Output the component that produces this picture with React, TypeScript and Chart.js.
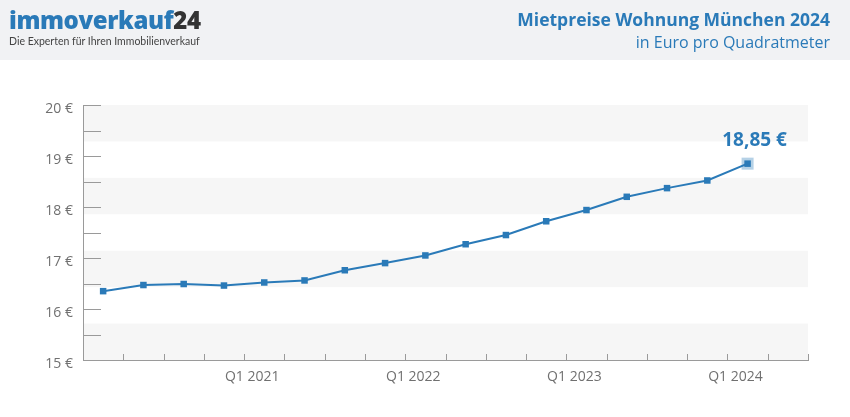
import React, { useEffect, useRef } from "react";
import { Chart, registerables } from "chart.js";

Chart.register(...registerables);

const values: number[] = [16.35, 16.47, 16.49, 16.46, 16.52, 16.56, 16.76, 16.9, 17.05, 17.27, 17.45, 17.72, 17.94, 18.2, 18.37, 18.52, 18.85];
const xLabels: string[] = ["Q1 2021", "Q1 2022", "Q1 2023", "Q1 2024"];
const xLabelIndex: number[] = [3.7, 7.7, 11.7, 15.7];
const yMin = 15;
const yMax = 20;
const yStep = 0.5;
const title = "Mietpreise Wohnung München 2024";
const subtitle = "in Euro pro Quadratmeter";

const BLUE = "#2a7ab8";
const AXIS = "#9a9a9a";
const LABEL = "#707070";
const FONT = "'Open Sans', 'Noto Sans', sans-serif";

const fmt = (v: number) => v.toFixed(2).replace(".", ",") + " €";

const bandsPlugin = {
  id: "bands",
  beforeDraw(chart: any) {
    const { ctx, chartArea } = chart;
    const n = 7;
    const h = (chartArea.bottom - chartArea.top) / n;
    ctx.save();
    ctx.fillStyle = "#f6f6f6";
    for (let i = 0; i < n; i += 2) {
      ctx.fillRect(chartArea.left, chartArea.top + i * h, chartArea.right - chartArea.left, h);
    }
    ctx.restore();
  },
};

const innerTicksPlugin = {
  id: "innerTicks",
  beforeDatasetsDraw(chart: any) {
    const { ctx, chartArea, scales } = chart;
    const y = scales.y;
    const x = scales.x;
    ctx.save();
    ctx.strokeStyle = AXIS;
    ctx.lineWidth = 1;
    ctx.beginPath();
    y.ticks.forEach((t: any) => {
      const py = Math.round(y.getPixelForValue(t.value)) + 0.5;
      ctx.moveTo(chartArea.left, py);
      ctx.lineTo(chartArea.left + 18, py);
    });
    for (let k = x.min; k <= x.max + 1e-6; k += 1) {
      const px = Math.round(x.getPixelForValue(k)) + 0.5;
      ctx.moveTo(px, chartArea.bottom);
      ctx.lineTo(px, chartArea.bottom - 6);
    }
    ctx.stroke();
    ctx.restore();
  },
};

const lastLabelPlugin = {
  id: "lastLabel",
  afterDatasetsDraw(chart: any) {
    const { ctx, scales } = chart;
    const i = values.length - 1;
    const px = scales.x.getPixelForValue(i);
    const py = scales.y.getPixelForValue(values[i]);
    ctx.save();
    ctx.font = `bold 19px ${FONT}`;
    ctx.fillStyle = BLUE;
    ctx.textAlign = "center";
    ctx.textBaseline = "middle";
    ctx.fillText(fmt(values[i]), px + 7, py - 23);
    ctx.restore();
  },
};

function LineChart() {
  const ref = useRef<HTMLCanvasElement | null>(null);
  useEffect(() => {
    if (!ref.current) return;
    const data = values.map((v, i) => ({ x: i, y: v }));
    const halo = values.map((v, i) => ({ x: i, y: i === values.length - 1 ? v : null }));
    const chart = new Chart(ref.current, {
      type: "line",
      data: {
        datasets: [
          {
            data: data as any,
            borderColor: BLUE,
            backgroundColor: BLUE,
            borderWidth: 2,
            pointStyle: "rect",
            pointRadius: 4.6,
            pointBorderWidth: 0,
            pointBackgroundColor: BLUE,
            order: 1,
          },
          {
            data: halo as any,
            showLine: false,
            pointStyle: "rect",
            pointRadius: 8.5,
            pointBorderWidth: 0,
            pointBackgroundColor: "rgba(42,122,184,0.35)",
            order: 2,
          },
        ],
      },
      options: {
        animation: false,
        responsive: false,
        events: [],
        layout: { padding: { top: 105, right: 42, left: 0, bottom: 0 } },
        plugins: { legend: { display: false }, tooltip: { enabled: false } },
        scales: {
          x: {
            type: "linear",
            min: -0.5,
            max: values.length + 0.5,
            grid: { display: false, drawTicks: false },
            border: { display: true, color: AXIS, width: 1 },
            afterBuildTicks: (s: any) => {
              s.ticks = xLabelIndex.map((v) => ({ value: v }));
            },
            afterFit: (s: any) => {
              s.height = 57;
            },
            ticks: {
              autoSkip: false,
              maxRotation: 0,
              padding: 9,
              color: LABEL,
              font: { family: FONT, size: 14 },
              callback: (_v: any, i: number) => xLabels[i],
            },
          },
          y: {
            type: "linear",
            min: yMin,
            max: yMax,
            grid: { display: false, drawTicks: false },
            border: { display: true, color: AXIS, width: 1 },
            afterBuildTicks: (s: any) => {
              const t: any[] = [];
              for (let v = yMin; v <= yMax + 1e-9; v += yStep) t.push({ value: v });
              s.ticks = t;
            },
            afterFit: (s: any) => {
              s.width = 83;
            },
            ticks: {
              padding: 10,
              labelOffset: 4,
              color: LABEL,
              font: { family: FONT, size: 14 },
              callback: (v: any) => (Math.abs(v - Math.round(v)) < 1e-9 ? `${v} €` : ""),
            },
          },
        },
      },
      plugins: [bandsPlugin, innerTicksPlugin, lastLabelPlugin],
    });
    return () => chart.destroy();
  }, []);
  return <canvas ref={ref} width={850} height={417} style={{ position: "absolute", left: 0, top: 0, width: 850, height: 417 }} />;
}

export default function App() {
  return (
    <div style={{ position: "fixed", left: 0, top: 0, width: 850, height: 417, background: "#fff", overflow: "hidden", fontFamily: FONT }}>
      <div style={{ position: "absolute", left: 0, top: 0, width: 850, height: 60, background: "#f1f2f4" }} />
      <LineChart />
      <div style={{ position: "absolute", left: 9, top: 3, whiteSpace: "nowrap", zIndex: 2 }}>
        <div style={{ fontSize: 24, fontWeight: 800, letterSpacing: -0.4, lineHeight: "33px" }}>
          <span style={{ color: BLUE }}>immoverkauf</span>
          <span style={{ color: "#333" }}>24</span>
        </div>
        <div style={{ fontSize: 10.5, color: "#444", lineHeight: "12px", marginTop: -1, fontFamily: "'Liberation Sans Narrow', Lato, sans-serif" }}>
          Die Experten für Ihren Immobilienverkauf
        </div>
      </div>
      <div style={{ position: "absolute", right: 20, top: 7, textAlign: "right", whiteSpace: "nowrap", zIndex: 2, color: BLUE }}>
        <div style={{ fontSize: 17.5, fontWeight: 700, lineHeight: "24px" }}>{title}</div>
        <div style={{ fontSize: 16, lineHeight: "22px" }}>{subtitle}</div>
      </div>
    </div>
  );
}
